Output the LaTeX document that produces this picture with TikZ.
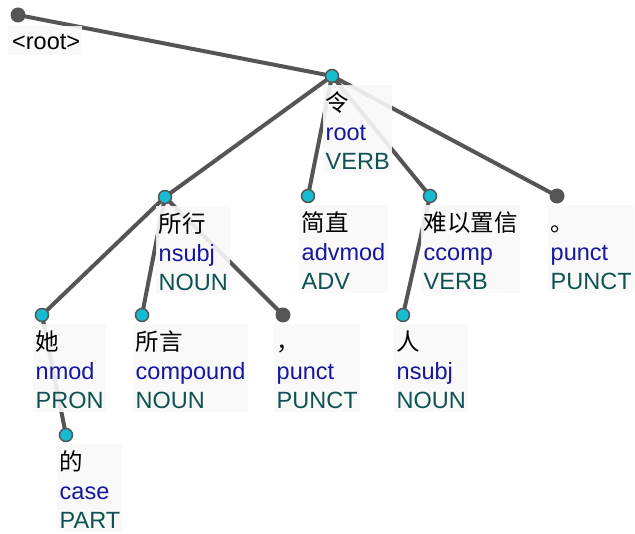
\documentclass[tikz,border=0pt]{standalone}
\usepackage{fontspec}
\setmainfont{Liberation Sans}
\newfontfamily\cjk{Noto Sans CJK SC}
\usetikzlibrary{calc}
\definecolor{edgec}{RGB}{85,85,85}
\definecolor{dotc}{RGB}{22,188,208}
\definecolor{boxc}{RGB}{248,248,248}
\definecolor{depc}{RGB}{22,22,160}
\definecolor{posc}{RGB}{14,82,82}
\pgfdeclarelayer{edges}
\pgfdeclarelayer{boxes}
\pgfsetlayers{edges,boxes,main}
\tikzset{
  txt/.style={inner sep=0pt, anchor=base west, font=\fontsize{23.5}{28}\selectfont},
  wordtxt/.style={txt, text=black},
  deptxt/.style={txt, text=depc},
  postxt/.style={txt, text=posc},
  cyandot/.style={circle, fill=dotc, draw=edgec, line width=1.5pt, minimum size=13pt, inner sep=0pt},
  darkdot/.style={circle, fill=edgec, minimum size=15pt, inner sep=0pt},
  edge/.style={draw=edgec, line width=4pt},
  labelbox/.style={fill=boxc, fill opacity=0.9}
}
\newcommand\tok[7]{%
  \node[#7] (#1) at (#2,#3) {};
  \node[wordtxt] (#1w) at (#2-6.5,#3+36) {\cjk #4};
  \node[deptxt] (#1d) at (#2-6.5,#3+65) {#5};
  \node[postxt] (#1p) at (#2-6.5,#3+94) {#6};
  \begin{pgfonlayer}{boxes}
    \path let \p1=(#1w.east), \p2=(#1d.east), \p3=(#1p.east), \p4=(0,#3+97),
      \n1={max(\x1,\x2,\x3)+2pt} in
      [labelbox] (#2-9,#3+9) rectangle (\n1,\y4);
  \end{pgfonlayer}
}
\begin{document}
\begin{tikzpicture}[x=1pt,y=-1pt]
\useasboundingbox (0,0) rectangle (635,534);
% root
\node[darkdot] (root) at (18,15) {};
\node[wordtxt] (rootw) at (12,50) {<root>};
\begin{pgfonlayer}{boxes}
  \path let \p1=(rootw.east), \p2=(0,55) in [labelbox] (8,26) rectangle (\x1+2pt,\y2);
\end{pgfonlayer}
\tok{ling}{332}{76}{令}{root}{VERB}{cyandot}
\tok{suoxing}{165}{197}{所行}{nsubj}{NOUN}{cyandot}
\tok{jianzhi}{308}{196}{简直}{advmod}{ADV}{cyandot}
\tok{nanyi}{430}{196}{难以置信}{ccomp}{VERB}{cyandot}
\tok{ju}{557}{196}{。}{punct}{PUNCT}{darkdot}
\tok{ta}{42}{315}{她}{nmod}{PRON}{cyandot}
\tok{suoyan}{142}{315}{所言}{compound}{NOUN}{cyandot}
\tok{dou}{283}{315}{，}{punct}{PUNCT}{darkdot}
\tok{ren}{403}{315}{人}{nsubj}{NOUN}{cyandot}
\tok{de}{66}{435}{的}{case}{PART}{cyandot}
\begin{pgfonlayer}{edges}
  \draw[edge] (root.center) -- (ling.center);
  \draw[edge] (ling.center) -- (suoxing.center);
  \draw[edge] (ling.center) -- (jianzhi.center);
  \draw[edge] (ling.center) -- (nanyi.center);
  \draw[edge] (ling.center) -- (ju.center);
  \draw[edge] (suoxing.center) -- (ta.center);
  \draw[edge] (suoxing.center) -- (suoyan.center);
  \draw[edge] (suoxing.center) -- (dou.center);
  \draw[edge] (nanyi.center) -- (ren.center);
  \draw[edge] (ta.center) -- (de.center);
\end{pgfonlayer}
\end{tikzpicture}
\end{document}
